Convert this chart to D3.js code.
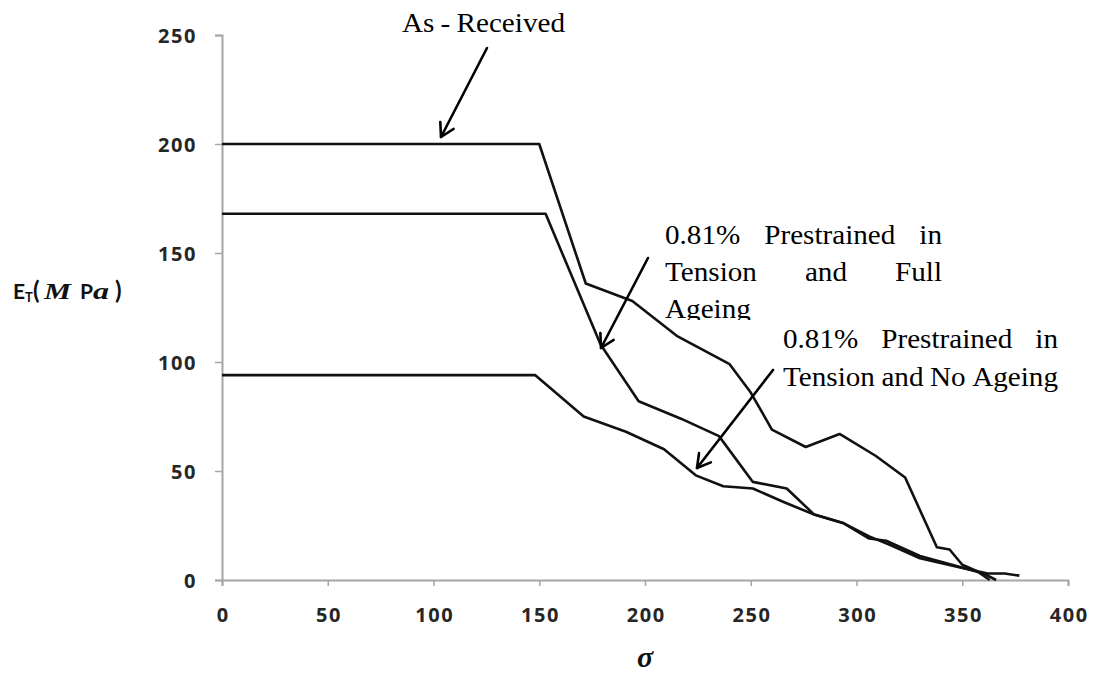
<!DOCTYPE html>
<html><head><meta charset="utf-8">
<script src="https://cdn.jsdelivr.net/npm/d3@7"></script>
<style>body{margin:0;background:#fff}svg{display:block}</style>
</head><body>
<svg id="c" width="1094" height="675"></svg>
<script>
// ---- data ----
const xTicks = [0, 50, 100, 150, 200, 250, 300, 350, 400];
const yTicks = [0, 50, 100, 150, 200, 250];

const asReceivedSigma = [0, 150, 172, 194, 215, 240, 250, 260, 276, 292, 309, 323, 338, 344, 350, 357, 363];
const asReceivedE     = [200, 200, 136, 128, 112, 99, 86, 69, 61, 67, 57, 47, 15, 14, 7, 4, 0];

const fullAgeingSigma = [0, 153, 179, 197, 217, 235, 251, 267, 280, 294, 306, 314, 330, 349, 360, 366];
const fullAgeingE     = [168, 168, 108, 82, 74, 66, 45, 42, 30, 26, 19, 18, 11, 6, 3, 0];

const noAgeingSigma = [0, 148, 171, 191, 209, 224, 237, 251, 265, 280, 294, 306, 316, 330, 348, 362, 370, 377];
const noAgeingE     = [94, 94, 75, 68, 60, 48, 43, 42, 36, 30, 26, 20, 16, 10, 6, 3, 3, 2];

// ---- layout ----
const svg = d3.select("#c");
const x = d3.scaleLinear().domain([0, 400]).range([222, 1068]);
const y = d3.scaleLinear().domain([0, 250]).range([580, 35]);

const axisColor = "#a6a6a6";
const tickFont = "'Open Sans', 'Lato', sans-serif";
const tickSize = 20, tickLS = 1.6;

// y axis
const gy = svg.append("g").attr("transform", `translate(${x(0)},0)`)
  .call(d3.axisLeft(y).tickValues(yTicks).tickSize(7).tickPadding(18));
gy.select(".domain").attr("stroke", axisColor).attr("stroke-width", 2);
gy.selectAll(".tick line").attr("stroke", axisColor).attr("stroke-width", 1.5);
gy.selectAll(".tick text").attr("font-family", tickFont).attr("font-weight", 700)
  .attr("font-size", tickSize).attr("fill", "#262626").attr("letter-spacing", tickLS)
  .attr("dy", "0.36em");

// x axis
const gx = svg.append("g").attr("transform", `translate(0,${y(0)})`)
  .call(d3.axisBottom(x).tickValues(xTicks).tickSize(6).tickPadding(36));
gx.select(".domain").attr("stroke", axisColor).attr("stroke-width", 2);
gx.selectAll(".tick line").attr("stroke", axisColor).attr("stroke-width", 1.5);
gx.selectAll(".tick text").attr("font-family", tickFont).attr("font-weight", 700)
  .attr("font-size", tickSize).attr("fill", "#262626").attr("letter-spacing", tickLS)
  .attr("dx", tickLS / 2).attr("dy", 0);

// lines
const line = d3.line().x(d => x(d[0])).y(d => y(d[1]));
const series = [
  d3.zip(asReceivedSigma, asReceivedE),
  d3.zip(fullAgeingSigma, fullAgeingE),
  d3.zip(noAgeingSigma, noAgeingE)
];
svg.append("g").selectAll("path").data(series).join("path")
  .attr("d", line).attr("fill", "none").attr("stroke", "#111")
  .attr("stroke-width", 2.6).attr("stroke-linejoin", "round");

// axis titles
const serif = "'Liberation Serif', 'DejaVu Serif', serif";
const yl = svg.append("text").attr("y", 299).attr("font-family", "Lato, 'Open Sans', sans-serif")
  .attr("font-weight", 700).attr("font-size", 21).attr("fill", "#111");
yl.append("tspan").attr("x", 13).text("E");
yl.append("tspan").attr("x", 25).attr("dy", 3).attr("font-size", 13).text("T");
yl.append("tspan").attr("x", 33).attr("dy", -3).attr("font-size", 24).text("(");
yl.append("tspan").attr("x", 44).attr("font-family", serif).attr("font-style", "italic")
  .attr("font-weight", 700).attr("font-size", 23).attr("textLength", 27).attr("lengthAdjust", "spacingAndGlyphs").text("M");
yl.append("tspan").attr("x", 80).text("P");
yl.append("tspan").attr("x", 93).attr("font-family", serif).attr("font-style", "italic")
  .attr("font-weight", 700).attr("font-size", 23).attr("textLength", 16).attr("lengthAdjust", "spacingAndGlyphs").text("a");
yl.append("tspan").attr("x", 115).attr("font-size", 24).text(")");

svg.append("text").attr("x", 645).attr("y", 667).attr("text-anchor", "middle")
  .attr("font-family", serif).attr("font-style", "italic").attr("font-weight", 700)
  .attr("font-size", 30).attr("fill", "#111").text("σ");

// annotations
const annSize = 26.5, stretch = 1.1;
const defs = svg.append("defs");
defs.append("clipPath").attr("id", "clipFull").append("rect")
  .attr("x", 600).attr("y", 200).attr("width", 400).attr("height", 120);

function justified(g, words, x0, x1, yb, justify) {
  const els = words.map(w => g.append("text").attr("y", yb).attr("font-family", serif)
    .attr("font-size", annSize).attr("fill", "#000").text(w));
  const widths = els.map(e => e.node().getComputedTextLength() * stretch);
  els.forEach((e, i) => e.attr("textLength", widths[i]).attr("lengthAdjust", "spacingAndGlyphs"));
  const total = d3.sum(widths);
  const gap = (justify && words.length > 1) ? (x1 - x0 - total) / (words.length - 1) : annSize * 0.25;
  let cx = x0;
  els.forEach((e, i) => { e.attr("x", cx); cx += widths[i] + gap; });
}

const gA = svg.append("g");
justified(gA, ["As", "-", "Received"], 402, 565, 32, true);

const gF = svg.append("g").attr("clip-path", "url(#clipFull)");
justified(gF, ["0.81%", "Prestrained", "in"], 665, 942, 244, true);
justified(gF, ["Tension", "and", "Full"], 665, 942, 281, true);
justified(gF, ["Ageing"], 665, 942, 318, false);

const gN = svg.append("g");
justified(gN, ["0.81%", "Prestrained", "in"], 783, 1058, 348, true);
justified(gN, ["Tension", "and", "No", "Ageing"], 783, 1058, 386, true);

// arrows (open V heads)
const arrowStarts = [[487, 48], [648, 258], [773, 370]];
const arrowTips   = [[441, 137], [601, 348], [697, 468]];
const ga = svg.append("g").attr("stroke", "#000").attr("stroke-width", 2.6).attr("fill", "none")
  .attr("stroke-linecap", "round").attr("stroke-linejoin", "round");
arrowStarts.forEach((s, i) => {
  const t = arrowTips[i];
  ga.append("line").attr("x1", s[0]).attr("y1", s[1]).attr("x2", t[0]).attr("y2", t[1]);
  const ang = Math.atan2(t[1] - s[1], t[0] - s[0]);
  const L = 15, a = Math.PI / 6;
  const p1 = [t[0] - L * Math.cos(ang - a), t[1] - L * Math.sin(ang - a)];
  const p2 = [t[0] - L * Math.cos(ang + a), t[1] - L * Math.sin(ang + a)];
  ga.append("path").attr("d", `M${p1[0]},${p1[1]}L${t[0]},${t[1]}L${p2[0]},${p2[1]}`);
});
</script>
</body></html>
